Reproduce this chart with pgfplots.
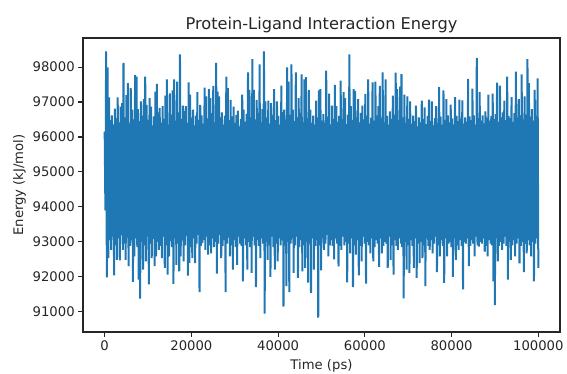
\documentclass[border=0pt]{standalone}
\usepackage{pgfplots}
\pgfplotsset{compat=1.18}
\usepackage{fontspec}
\setmainfont{DejaVu Sans}
\definecolor{tabblue}{HTML}{1F77B4}
\begin{document}
\begin{tikzpicture}
\useasboundingbox (-83pt,-41pt) rectangle (484pt,332pt);
\begin{axis}[
  at={(0,0)}, anchor=south west,
  scale only axis, width=477pt, height=294pt,
  xmin=-5000, xmax=105000, ymin=90418, ymax=98832,
  xtick={0,20000,40000,60000,80000,100000},
  xticklabels={0,20000,40000,60000,80000,100000},
  ytick={91000,92000,93000,94000,95000,96000,97000,98000},
  yticklabels={91000,92000,93000,94000,95000,96000,97000,98000},
  scaled ticks=false,
  tick label style={font=\fontsize{13.2}{15}\selectfont, text=black!85},
  label style={font=\fontsize{13.2}{15}\selectfont, text=black!85},
  xlabel style={yshift=-2.5pt},
  title style={font=\fontsize{16.2}{19}\selectfont, text=black!85, yshift=-4.5pt},
  title={Protein-Ligand Interaction Energy},
  xlabel={Time (ps)}, ylabel={Energy (kJ/mol)},
  tick align=outside, tick pos=left,
  major tick length=4.8pt,
  every tick/.style={black!85, line width=1.1pt},
  axis line style={line width=1.1pt, black!85},
]
\addplot[tabblue, line width=2pt, line join=miter, mark=none] table[row sep=\\, header=false, x expr=\coordindex*166.9449, y index=0]{
96150\\93900\\98450\\91985\\97990\\92530\\97130\\93050\\96480\\92770\\96620\\93150\\96350\\92040\\96810\\92900\\96540\\92485\\97130\\93100\\
96420\\92470\\96870\\93200\\96970\\92770\\98120\\92950\\96560\\92485\\97200\\93120\\97540\\92300\\96380\\92880\\97400\\93050\\96780\\91850\\
96500\\92580\\97770\\93100\\97730\\92850\\96800\\91920\\96450\\91370\\97020\\93000\\96610\\92200\\97080\\92900\\97730\\92440\\96920\\93150\\
96480\\91780\\97110\\92950\\96870\\92530\\96330\\93080\\96590\\92300\\97300\\92580\\97520\\93000\\96700\\92770\\96830\\92880\\96410\\92530\\
96880\\93150\\96520\\92250\\97180\\92900\\97650\\92060\\96360\\92580\\97250\\93020\\96640\\92850\\97330\\91795\\97650\\93100\\96470\\92340\\
97585\\92950\\96700\\92155\\98360\\92580\\96520\\93050\\96900\\92440\\96740\\92900\\96880\\93180\\96400\\92030\\97565\\92390\\97210\\92850\\
96550\\92530\\96780\\93100\\96330\\92390\\96610\\92950\\97280\\93200\\96490\\91560\\96920\\92880\\96620\\92960\\96380\\93050\\97415\\92770\\
97160\\93150\\96530\\92630\\97370\\92900\\97110\\92670\\96680\\93100\\97460\\92850\\96420\\93000\\98120\\92090\\97300\\92950\\97160\\93200\\
96560\\92530\\96700\\92880\\96350\\93050\\96610\\91560\\97730\\92950\\97400\\93120\\96480\\92580\\97060\\92900\\96590\\92200\\96870\\93050\\
96400\\92850\\96630\\92340\\96750\\93150\\96300\\92950\\96520\\92880\\97210\\91870\\96780\\93100\\96440\\92900\\96660\\92200\\97850\\93000\\
97350\\92850\\96560\\92110\\98230\\93150\\97350\\92900\\96500\\91700\\97060\\93050\\96690\\92880\\98080\\92530\\96420\\93100\\96800\\92950\\
98450\\90945\\97020\\93000\\96550\\92480\\97040\\92900\\96380\\91995\\96970\\93150\\96620\\92850\\97370\\92200\\96480\\92950\\97020\\92440\\
96600\\93100\\96350\\92900\\97470\\93050\\96710\\91145\\96780\\92880\\96500\\91730\\97990\\93000\\97585\\91560\\96640\\92950\\98080\\93100\\
96780\\92110\\96450\\92900\\97850\\93150\\96560\\91965\\97110\\92850\\96690\\93050\\97790\\92155\\96420\\92900\\97650\\92250\\97710\\93000\\
96530\\91830\\97350\\92950\\96780\\91540\\96400\\93100\\96610\\92200\\96350\\92880\\97040\\93050\\96560\\90830\\97330\\92900\\97370\\92180\\
96470\\93100\\96650\\92770\\96400\\92950\\97900\\93200\\96580\\92580\\97240\\92900\\96360\\93050\\96895\\92880\\96520\\92500\\97490\\93100\\
96880\\92950\\96430\\92300\\96600\\92880\\97610\\92770\\96510\\93150\\97280\\92900\\97110\\93000\\96370\\91840\\96640\\92950\\98360\\92670\\
96880\\93100\\96490\\91700\\97370\\92900\\97320\\92630\\96560\\93050\\97085\\92040\\96420\\92880\\96690\\92440\\96895\\93150\\96500\\92950\\
97230\\91805\\96610\\93000\\97650\\92900\\96380\\92670\\96550\\93100\\97560\\92440\\96470\\92850\\97585\\93050\\96620\\92950\\96880\\92280\\
97460\\93100\\96530\\92670\\97850\\92880\\96420\\93000\\97650\\92950\\96600\\92250\\96350\\93150\\96735\\92480\\96520\\92900\\97180\\92060\\
96640\\93050\\97840\\92880\\97370\\92770\\96480\\93100\\97440\\92950\\97800\\92850\\96560\\91380\\97210\\93000\\96400\\92200\\97160\\92900\\
96520\\92110\\97020\\93050\\96380\\92880\\96610\\92250\\96450\\93100\\96895\\91965\\96300\\92950\\96560\\92390\\96420\\93000\\97040\\92530\\
96510\\92900\\96850\\91730\\96370\\93100\\96600\\92880\\97065\\92770\\96460\\93050\\97020\\92670\\96330\\92950\\96540\\93150\\96880\\92130\\
96400\\92900\\97425\\92580\\96580\\93050\\96350\\92880\\97330\\91825\\96490\\93100\\97085\\92580\\96620\\92950\\96420\\93000\\96925\\92850\\
96530\\91995\\96360\\93100\\97140\\92480\\96600\\92900\\96450\\92770\\97065\\93050\\96510\\92880\\97050\\91635\\96380\\93000\\96560\\92950\\
96440\\93100\\97660\\92300\\96590\\92880\\96480\\93050\\97380\\92950\\96620\\92580\\96350\\93150\\98265\\92900\\96540\\92860\\97280\\93000\\
96470\\92950\\96620\\93100\\96390\\92720\\96735\\92880\\96550\\92580\\97210\\93050\\96460\\92950\\96600\\92900\\97240\\91870\\96510\\91190\\
96650\\93100\\97555\\92440\\96430\\92880\\97470\\93000\\96560\\92770\\96700\\92950\\97040\\93150\\96480\\92880\\97725\\91920\\96600\\93000\\
96540\\92480\\97140\\92900\\96430\\93050\\96680\\92580\\97870\\92950\\96560\\93100\\97085\\92380\\96620\\92880\\97790\\93000\\96500\\92135\\
97160\\92950\\96640\\92670\\98230\\93050\\97540\\92900\\96580\\92580\\96800\\93000\\96470\\91870\\97350\\92950\\96600\\93100\\97680\\92250\\
};
\end{axis}
\end{tikzpicture}
\end{document}
